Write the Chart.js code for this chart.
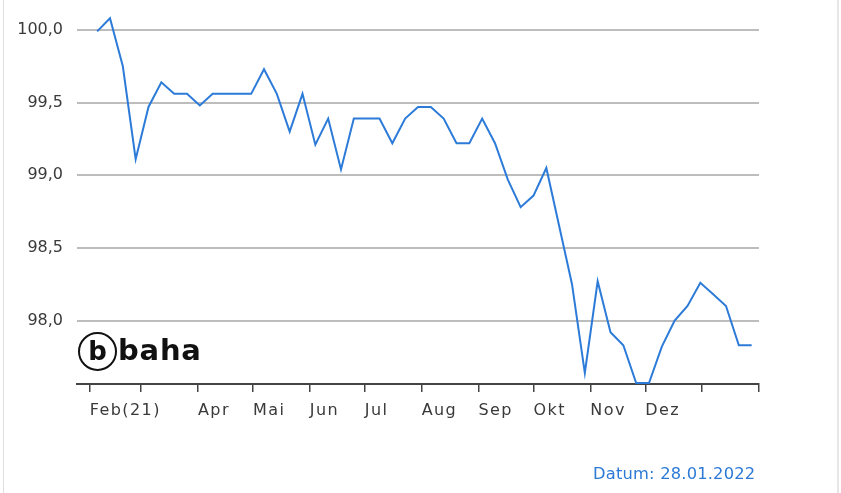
<!DOCTYPE html>
<html lang="de">
<head>
<meta charset="utf-8">
<title>baha Chart</title>
<script src="https://cdn.jsdelivr.net/npm/chart.js@4.4.1/dist/chart.umd.min.js"></script>
<style>
  html, body { margin: 0; padding: 0; background: #fff; }
  #wrap { position: relative; width: 841px; height: 493px; overflow: hidden; }
  #frame { position: absolute; left: 3px; top: 0; width: 833px; height: 493px;
    border-left: 1px solid #dedede; border-right: 2px solid #e6e6e6; pointer-events: none; }
  #logo { position: absolute; left: 78px; top: 332px; height: 42px; pointer-events: none;
    font-family: "DejaVu Sans", sans-serif; color: #111; }
  #logo .ring { position: absolute; left: 0; top: 0; width: 35px; height: 35px;
    border: 2.5px solid #111; border-radius: 50%; text-align: center;
    font-size: 26px; font-weight: 700; line-height: 34px; }
  #logo .word { position: absolute; left: 40px; top: 1px; font-size: 29px; line-height: 34px;
    font-weight: 700; letter-spacing: 0.8px; white-space: nowrap; }
  #datum { position: absolute; left: 593px; top: 464px; font-family: "DejaVu Sans", sans-serif;
    font-size: 16.3px; letter-spacing: 0.2px; color: #2c7ad6; white-space: nowrap; }
</style>
</head>
<body>
<div id="wrap">
  <canvas id="kursChart"></canvas>
  <div id="frame"></div>
  <div id="logo"><div class="ring">b</div><div class="word">baha</div></div>
  <div id="datum">Datum: 28.01.2022</div>
</div>
<script>
// Wochenkurse (jeweils Freitag)
const dates = [
  "05.02.2021", "12.02.2021", "19.02.2021", "26.02.2021",
  "05.03.2021", "12.03.2021", "19.03.2021", "26.03.2021",
  "02.04.2021", "09.04.2021", "16.04.2021", "23.04.2021", "30.04.2021",
  "07.05.2021", "14.05.2021", "21.05.2021", "28.05.2021",
  "04.06.2021", "11.06.2021", "18.06.2021", "25.06.2021",
  "02.07.2021", "09.07.2021", "16.07.2021", "23.07.2021", "30.07.2021",
  "06.08.2021", "13.08.2021", "20.08.2021", "27.08.2021",
  "03.09.2021", "10.09.2021", "17.09.2021", "24.09.2021",
  "01.10.2021", "08.10.2021", "15.10.2021", "22.10.2021", "29.10.2021",
  "05.11.2021", "12.11.2021", "19.11.2021", "26.11.2021",
  "03.12.2021", "10.12.2021", "17.12.2021", "24.12.2021", "31.12.2021",
  "07.01.2022", "14.01.2022", "21.01.2022", "28.01.2022",
];
const kurse = [
  99.99, 100.08, 99.75, 99.11,
  99.47, 99.64, 99.56, 99.56,
  99.48, 99.56, 99.56, 99.56, 99.56,
  99.73, 99.56, 99.30, 99.56,
  99.21, 99.39, 99.04, 99.39,
  99.39, 99.39, 99.22, 99.39, 99.47,
  99.47, 99.39, 99.22, 99.22,
  99.39, 99.22, 98.97, 98.78,
  98.86, 99.05, 98.65, 98.25, 97.64,
  98.27, 97.92, 97.83, 97.57,
  97.57, 97.82, 98.00, 98.10, 98.26,
  98.18, 98.10, 97.83, 97.83,
];

// Monatsanfänge auf der X-Achse
const monthStarts = [
  "01.02.2021", "01.03.2021", "01.04.2021", "01.05.2021", "01.06.2021", "01.07.2021",
  "01.08.2021", "01.09.2021", "01.10.2021", "01.11.2021", "01.12.2021", "01.01.2022", "01.02.2022",
];
const monthLabels = ["Feb(21)", "", "Apr", "Mai", "Jun", "Jul", "Aug", "Sep", "Okt", "Nov", "Dez", "", ""];
const yTicks = [98.0, 98.5, 99.0, 99.5, 100.0];

// Tage seit 01.02.2021
const origin = Date.UTC(2021, 1, 1);
function dayOf(s) {
  const [d, m, y] = s.split(".").map(Number);
  return (Date.UTC(y, m - 1, d) - origin) / 86400000;
}

const points = dates.map((d, i) => ({ x: dayOf(d), y: kurse[i] }));
const tickDays = monthStarts.map(dayOf);

// Monatsnamen etwas gesperrt zeichnen
function spacedLabels(axis) {
  if (axis._spaced) return;
  axis._spaced = true;
  const draw = axis.drawLabels;
  axis.drawLabels = function (area) {
    this.ctx.save();
    this.ctx.letterSpacing = "1.4px";
    draw.call(this, area);
    this.ctx.restore();
  };
}

new Chart(document.getElementById("kursChart"), {
  type: "line",
  data: {
    datasets: [
      {
        data: points,
        borderColor: "#2d7bd8",
        borderWidth: 2,
        pointRadius: 0,
        tension: 0,
        fill: false,
      },
    ],
  },
  options: {
    responsive: true,
    maintainAspectRatio: false,
    animation: false,
    layout: { padding: { top: 8, right: 82, bottom: 69, left: 0 } },
    plugins: { legend: { display: false }, tooltip: { enabled: false } },
    scales: {
      x: {
        type: "linear",
        bounds: "data",
        min: -7,
        max: 365,
        afterBuildTicks: (axis) => {
          axis.ticks = tickDays.map((v) => ({ value: v }));
          spacedLabels(axis);
        },
        afterFit: (axis) => {
          axis.height = 40;
          axis.paddingLeft = 0;
          axis.paddingRight = 0;
        },
        ticks: {
          autoSkip: false,
          maxRotation: 0,
          align: "start",
          padding: 9,
          color: "#3a3a3a",
          font: { family: "DejaVu Sans", size: 16 },
          callback: (v, i) => monthLabels[i],
        },
        grid: {
          drawOnChartArea: false,
          drawTicks: true,
          tickLength: 8,
          color: "#444",
          lineWidth: 1.5,
        },
        border: { display: true, color: "#444", width: 2 },
      },
      y: {
        min: 97.563,
        max: 100.151,
        afterBuildTicks: (axis) => {
          axis.ticks = yTicks.map((v) => ({ value: v }));
        },
        afterFit: (axis) => {
          axis.width = 77;
          axis.paddingTop = 0;
          axis.paddingBottom = 0;
        },
        ticks: {
          padding: 14,
          color: "#3a3a3a",
          font: { family: "DejaVu Sans", size: 16 },
          callback: (v) => v.toFixed(1).replace(".", ","),
        },
        grid: { drawTicks: false, color: "#bdbdbd", lineWidth: 2 },
        border: { display: false },
      },
    },
  },
});
</script>
</body>
</html>
